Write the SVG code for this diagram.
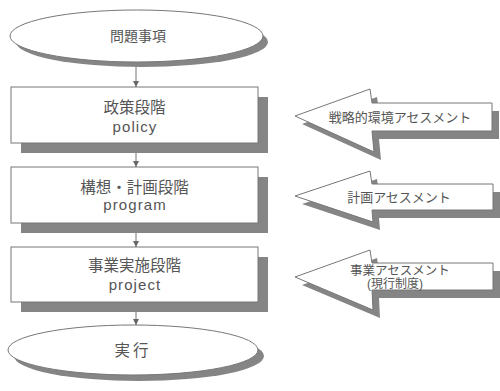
<svg xmlns="http://www.w3.org/2000/svg" width="500" height="391" viewBox="0 0 500 391">
<style>
.txt{font-family:"Liberation Sans","Noto Sans CJK JP",sans-serif;fill:#555;text-anchor:middle}
.big{font-size:15.5px}
.lat{font-size:15px;letter-spacing:1.1px}
.sm{font-size:13px}
.face{fill:#fff;stroke:#777;stroke-width:1}
.shadow{fill:#858585}
.conn{stroke:#777;stroke-width:1;fill:none}
</style>
<defs>
<marker id="ah" viewBox="0 0 8 8" refX="8" refY="4" markerWidth="6" markerHeight="6" orient="auto" markerUnits="userSpaceOnUse">
<path d="M0,0 L8,4 L0,8 z" fill="#666"/>
</marker>
</defs>
<rect width="500" height="391" fill="#fff"/>
<g id="connectors">
<line class="conn" x1="136" y1="63" x2="136" y2="87" marker-end="url(#ah)"/>
<line class="conn" x1="136" y1="153" x2="136" y2="167" marker-end="url(#ah)"/>
<line class="conn" x1="136" y1="233" x2="136" y2="247" marker-end="url(#ah)"/>
<line class="conn" x1="136" y1="312" x2="136" y2="325" marker-end="url(#ah)"/>
</g>
<g id="mondai">
<ellipse class="shadow" cx="142" cy="42" rx="126" ry="25"/>
<ellipse class="face" cx="136.5" cy="36" rx="126.5" ry="26"/>
<text class="txt" x="138" y="41" font-size="14">問題事項</text>
</g>
<g id="policy">
<rect class="shadow" x="21" y="97" width="247" height="56"/>
<rect class="face" x="11" y="87" width="247" height="56"/>
<text class="txt big" x="134.5" y="112.5">政策段階</text>
<text class="txt lat" x="135" y="132">policy</text>
</g>
<g id="program">
<rect class="shadow" x="21" y="177" width="247" height="56"/>
<rect class="face" x="11" y="167" width="247" height="56"/>
<text class="txt big" x="134.5" y="192.5">構想・計画段階</text>
<text class="txt lat" x="135" y="210">program</text>
</g>
<g id="project">
<rect class="shadow" x="21" y="257" width="247" height="55"/>
<rect class="face" x="11" y="247" width="247" height="55"/>
<text class="txt big" x="134.5" y="270.5">事業実施段階</text>
<text class="txt lat" x="135" y="290">project</text>
</g>
<g id="jikko">
<ellipse class="shadow" cx="139" cy="356" rx="125" ry="25"/>
<ellipse class="face" cx="133" cy="350" rx="125" ry="25"/>
<text class="txt" x="133" y="355.5" font-size="15.5" letter-spacing="3">実行</text>
</g>
<g id="sea">
<polygon class="shadow" transform="translate(7,8)" points="295,116 370,89 372,103 492,103 492,131 372,131 374,152"/>
<polygon class="face" points="295,116 370,89 372,103 492,103 492,131 372,131 374,152"/>
<text class="txt sm" x="400" y="121.5">戦略的環境アセスメント</text>
</g>
<g id="pa">
<polygon class="shadow" transform="translate(7,8)" points="295,196 370,171 372,184 493,184 493,210 372,210 373,222"/>
<polygon class="face" points="295,196 370,171 372,184 493,184 493,210 372,210 373,222"/>
<text class="txt sm" x="399" y="201.5">計画アセスメント</text>
</g>
<g id="eia">
<polygon class="shadow" transform="translate(7,8)" points="295,277 370,250 372,263 493,263 493,290 372,290 373,310"/>
<polygon class="face" points="295,277 370,250 372,263 493,263 493,290 372,290 373,310"/>
<text class="txt" x="400" y="274.5" font-size="12.5">事業アセスメント</text>
<text class="txt" x="395" y="287.5" font-size="12">(現行制度)</text>
</g>
</svg>
